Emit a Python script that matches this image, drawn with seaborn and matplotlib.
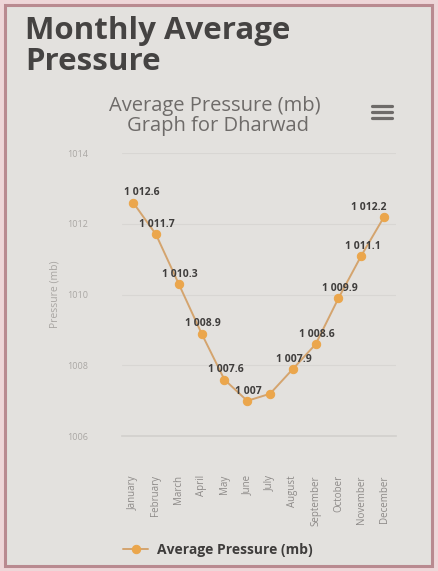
import matplotlib
matplotlib.use("Agg")
import matplotlib.pyplot as plt
import matplotlib.patches as mpatches
import seaborn as sns
import pandas as pd

months = ["January", "February", "March", "April", "May", "June", "July",
          "August", "September", "October", "November", "December"]
pressure = [1012.6, 1011.7, 1010.3, 1008.9, 1007.6, 1007.0, 1007.2,
            1007.9, 1008.6, 1009.9, 1011.1, 1012.2]
point_labels = ["1 012.6", "1 011.7", "1 010.3", "1 008.9", "1 007.6", "1 007", "",
                "1 007.9", "1 008.6", "1 009.9", "1 011.1", "1 012.2"]
y_ticks = [1006, 1008, 1010, 1012, 1014]

df = pd.DataFrame({"Month": months, "Pressure": pressure})

sns.set_theme(style="white")
plt.rcParams["font.family"] = ["Open Sans", "DejaVu Sans"]

W, H = 438, 571
def fx(px):
    return px / W
def fy(py):
    return 1 - py / H

bg = "#e3e1de"
fig = plt.figure(figsize=(4.38, 5.71), dpi=100, facecolor="#eed6d8")
# page / card background with pinkish frame
fig.patches.append(mpatches.Rectangle((0.012, 0.008), 0.975, 0.984, transform=fig.transFigure,
                                      facecolor=bg, edgecolor="#b98a90", linewidth=2.2, zorder=-10))

ax = fig.add_axes([0.278, 0.236, 0.625, 0.496])
ax.set_facecolor(bg)
ax.set_zorder(2)

orange = "#eba64c"
sns.lineplot(data=df, x="Month", y="Pressure", ax=ax, color="#d4a46e", linewidth=1.4,
             marker="o", markersize=6, markerfacecolor=orange, markeredgecolor=orange,
             sort=False, label="Average Pressure (mb)", legend=False)

ax.set_ylim(1006, 1014)
ax.set_yticks(y_ticks)
ax.set_yticklabels([str(t) for t in y_ticks], fontsize=6.5, color="#aaa7a4")
ax.set_xlim(-0.5, len(months) - 0.5)
ax.set_xticks(range(len(months)))
ax.set_xticklabels(months, rotation=90, fontsize=7, color="#8d8a88", va="top")
ax.tick_params(axis="y", length=0, pad=24)
ax.tick_params(axis="x", length=0, pad=28)
ax.yaxis.grid(True, color="#d8d6d3", linewidth=0.8)
ax.set_axisbelow(True)
for s in ["top", "right", "left"]:
    ax.spines[s].set_visible(False)
ax.spines["bottom"].set_color("#d2d0cd")
ax.set_xlabel("")
ax.set_ylabel("Pressure (mb)", fontsize=7.5, color="#a9a6a3", labelpad=5)

n = len(point_labels)
for i, (v, lab) in enumerate(zip(pressure, point_labels)):
    if lab:
        dx = 6 if i == 0 else (-11 if i == n - 1 else 1)
        ax.annotate(lab, (i, v), xytext=(dx, 3), textcoords="offset points",
                    ha="center", va="bottom", fontsize=7.5, fontweight="bold", color="#3f3d3c")

# titles
fig.text(fx(25), fy(39), "Monthly Average", ha="left", va="baseline", fontsize=22.5,
         fontweight="bold", color="#454342")
fig.text(fx(25), fy(70), "Pressure", ha="left", va="baseline", fontsize=22.5,
         fontweight="bold", color="#454342")
fig.text(fx(215), fy(111), "Average Pressure (mb)", ha="center", va="baseline",
         fontsize=14.5, color="#6e6b69")
fig.text(fx(218), fy(131), "Graph for Dharwad", ha="center", va="baseline",
         fontsize=14.5, color="#6e6b69")
# menu icon
for py in (106, 112, 118):
    fig.add_artist(plt.Line2D([fx(372), fx(392)], [fy(py), fy(py)], transform=fig.transFigure,
                              color="#6e6b69", linewidth=2.3))

# legend
leg = ax.legend(loc="center left", bbox_to_anchor=(-0.04, -0.40), frameon=False, fontsize=10,
                handlelength=1.8, handletextpad=0.6)
for t in leg.get_texts():
    t.set_fontweight("bold")
    t.set_color("#3f3d3c")

fig.savefig("out.png", dpi=100, facecolor=fig.get_facecolor())
